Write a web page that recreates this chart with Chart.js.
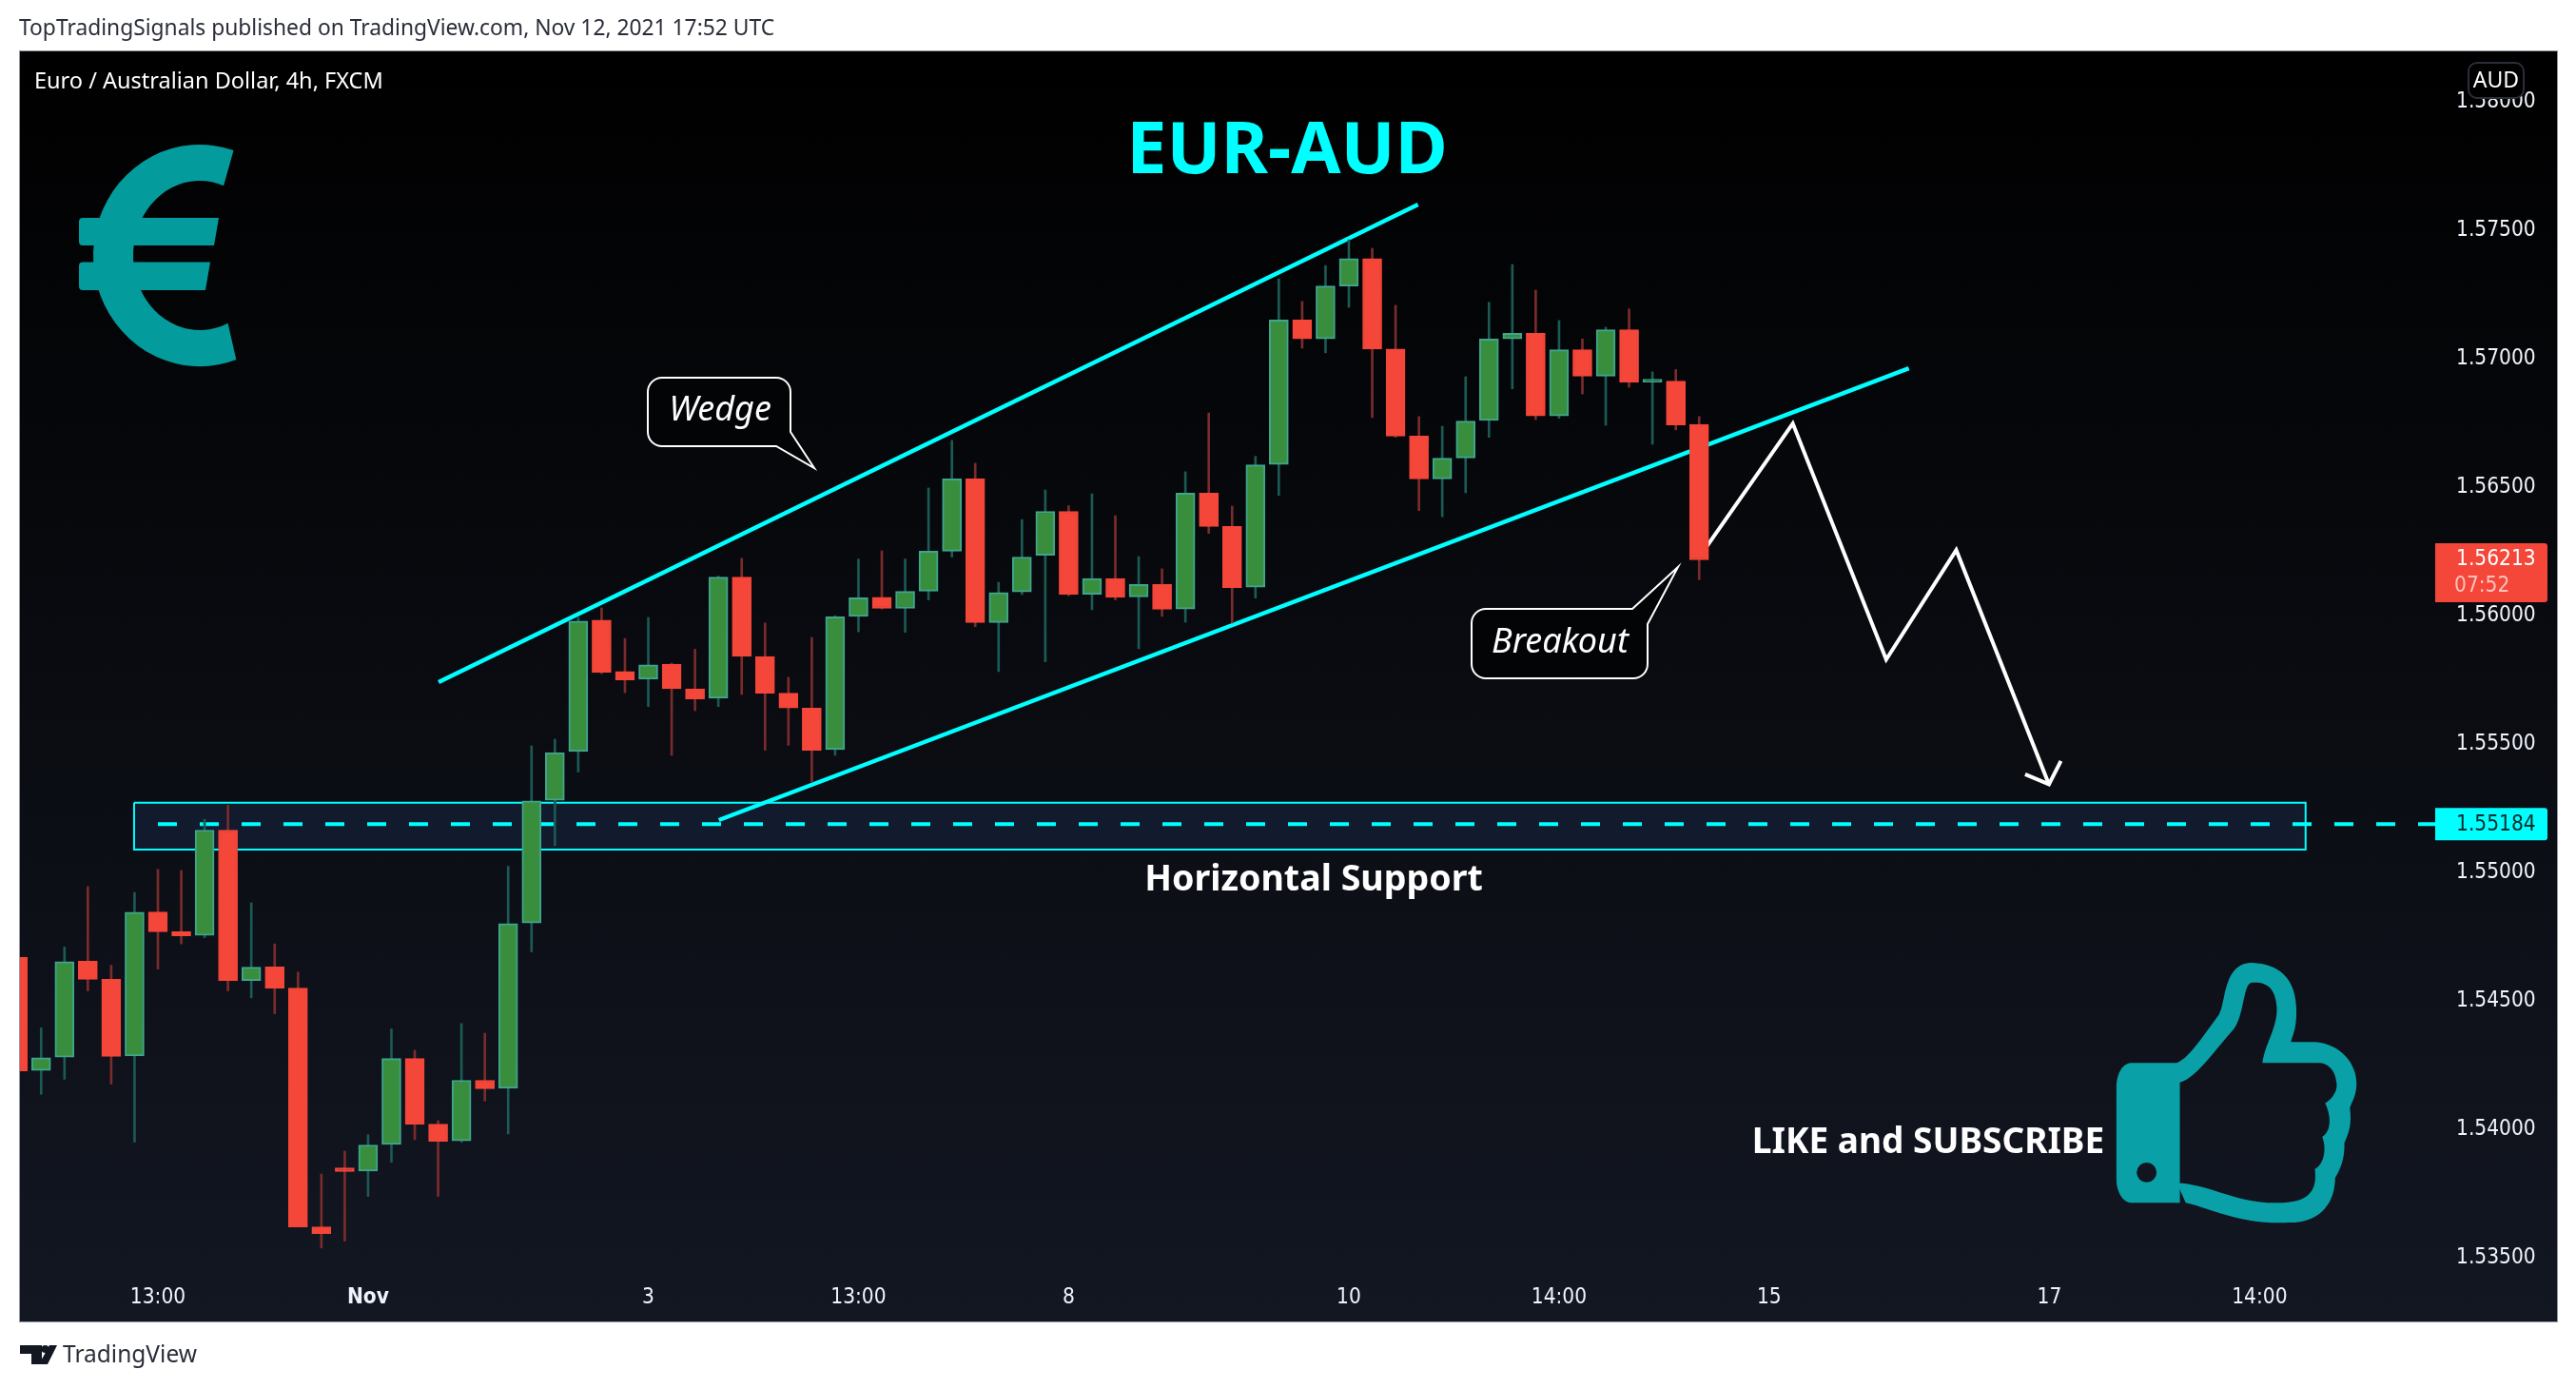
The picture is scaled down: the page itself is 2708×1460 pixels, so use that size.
<!DOCTYPE html>
<html>
<head>
<meta charset="utf-8">
<script src="https://cdn.jsdelivr.net/npm/chart.js"></script>
<style>
  html, body { margin: 0; background: #fff; }
  canvas { display: block; }
</style>
</head>
<body>
<canvas id="myChart" width="2708" height="1460"></canvas>
<script>
// candles, index 0 is the one cut off by the left edge
const opens = [1.54665,1.54225,1.54277,1.54651,1.54580,1.54282,1.54842,1.54765,1.54751,1.55161,1.54575,1.54628,1.54546,1.53616,1.53846,1.53834,1.53937,1.54272,1.54016,1.53951,1.54187,1.54156,1.54799,1.55277,1.55467,1.55978,1.55778,1.55748,1.55807,1.55711,1.55674,1.56146,1.55837,1.55694,1.55636,1.55474,1.55993,1.56067,1.56024,1.56091,1.56247,1.56528,1.55969,1.56088,1.56231,1.56402,1.56079,1.56140,1.56069,1.56117,1.56022,1.56473,1.56343,1.56107,1.56585,1.57147,1.57073,1.57279,1.57386,1.57034,1.56695,1.56528,1.56610,1.56756,1.57073,1.57095,1.56773,1.57031,1.56928,1.57109,1.56905,1.56909,1.56740];
const closes = [1.54223,1.54275,1.54649,1.54580,1.54280,1.54841,1.54765,1.54749,1.55161,1.54575,1.54627,1.54546,1.53616,1.53590,1.53832,1.53935,1.54272,1.54016,1.53949,1.54187,1.54154,1.54797,1.55275,1.55463,1.55975,1.55775,1.55746,1.55804,1.55711,1.55672,1.56146,1.55837,1.55694,1.55636,1.55472,1.55991,1.56065,1.56024,1.56090,1.56247,1.56528,1.55969,1.56086,1.56224,1.56402,1.56079,1.56140,1.56067,1.56117,1.56021,1.56473,1.56343,1.56105,1.56583,1.57147,1.57073,1.57279,1.57386,1.57034,1.56695,1.56528,1.56609,1.56753,1.57073,1.57095,1.56773,1.57031,1.56928,1.57109,1.56905,1.56909,1.56738,1.56213];
const highs = [1.54700,1.54391,1.54706,1.54941,1.54635,1.54918,1.55008,1.55004,1.55203,1.55258,1.54878,1.54718,1.54608,1.53822,1.53911,1.53975,1.54387,1.54304,1.54030,1.54408,1.54370,1.55020,1.55489,1.55515,1.55989,1.56026,1.55907,1.55989,1.55811,1.55865,1.56150,1.56219,1.55967,1.55756,1.55911,1.55996,1.56216,1.56248,1.56216,1.56493,1.56678,1.56589,1.56126,1.56370,1.56485,1.56424,1.56470,1.56385,1.56226,1.56178,1.56556,1.56785,1.56422,1.56616,1.57307,1.57219,1.57359,1.57459,1.57426,1.57204,1.56771,1.56733,1.56926,1.57216,1.57363,1.57263,1.57145,1.57073,1.57119,1.57190,1.56945,1.56954,1.56771];
const lows = [1.54150,1.54132,1.54191,1.54535,1.54172,1.53947,1.54620,1.54718,1.54742,1.54535,1.54508,1.54446,1.53616,1.53534,1.53561,1.53735,1.53868,1.53956,1.53735,1.53946,1.54106,1.53978,1.54687,1.55101,1.55387,1.55770,1.55696,1.55642,1.55452,1.55626,1.55642,1.55689,1.55472,1.55491,1.55349,1.55452,1.55933,1.56022,1.55931,1.56057,1.56224,1.55953,1.55778,1.56078,1.55816,1.56073,1.56019,1.56057,1.55867,1.55993,1.55970,1.56316,1.55967,1.56064,1.56464,1.57037,1.57019,1.57196,1.56767,1.56690,1.56405,1.56381,1.56474,1.56690,1.56879,1.56759,1.56764,1.56859,1.56737,1.56885,1.56663,1.56719,1.56136];

const xTickIndex = [6,15,27,36,45,57,66,75,87,96];
const xTickLabels = ['13:00','Nov','3','13:00','8','10','14:00','15','17','14:00'];
const priceTicks = [1.535,1.54,1.545,1.55,1.555,1.56,1.565,1.57,1.575,1.58];

// drawings, in bar index / price
const upperWedgeX = [18.02,59.96];
const upperWedgeY = [1.55737,1.57596];
const lowerWedgeX = [30.02,80.98];
const lowerWedgeY = [1.55200,1.56959];
const forecastX = [71.99,76.01,80.01,83.01,86.98];
const forecastY = [1.56222,1.56744,1.55825,1.56251,1.55339];
const arrowHeadX = [85.96,86.98,87.49];
const arrowHeadY = [1.55378,1.55339,1.55430];
const zoneX = [4.98,97.97];
const zoneY = [1.55268,1.55085];
const supportStart = 6;
const supportPrice = 1.55184;
const lastPrice = 1.56213;

const FONT = '"Noto Sans", sans-serif';
const NUM_FONT = '"DejaVu Sans Condensed", "DejaVu Sans", sans-serif';
const CYAN = '#00ffff';
const TEAL = '#049b9c';
const xMin = 0.0937, xMax = 103.52;
const yMin = 1.534296, yMax = 1.581926;

const isUp = closes.map((c, i) => c >= opens[i]);
const toPoints = (xs, ys) => xs.map((x, i) => ({x: x, y: ys[i]}));

function lineSet(data, color, width, extra) {
  return Object.assign({
    type: 'line', data: data, borderColor: color, borderWidth: width,
    pointRadius: 0, tension: 0, fill: false, order: 5
  }, extra);
}

const datasets = [
  // zone fill and outline
  lineSet(toPoints(zoneX, [zoneY[0], zoneY[0]]), 'rgba(0,0,0,0)', 0, {
    fill: {value: zoneY[1]}, backgroundColor: '#111b2d', order: 8
  }),
  lineSet(toPoints([zoneX[0],zoneX[1],zoneX[1],zoneX[0],zoneX[0]], [zoneY[0],zoneY[0],zoneY[1],zoneY[1],zoneY[0]]), CYAN, 2, {order: 7}),
  lineSet(toPoints([supportStart, xMax], [supportPrice, supportPrice]), CYAN, 4, {borderDash: [20, 24], order: 6}),
  lineSet(toPoints(upperWedgeX, upperWedgeY), CYAN, 4.5),
  lineSet(toPoints(lowerWedgeX, lowerWedgeY), CYAN, 4.5),
  lineSet(toPoints(forecastX, forecastY), '#ffffff', 4),
  lineSet(toPoints(arrowHeadX, arrowHeadY), '#ffffff', 4),
  // wicks
  {
    type: 'bar', grouped: false, order: 3, barThickness: 2,
    data: highs.map((h, i) => ({x: i, y: [lows[i], h]})),
    backgroundColor: isUp.map(u => u ? '#1c5a55' : '#7a2c2c'),
    borderWidth: 0
  },
  // bodies
  {
    type: 'bar', grouped: false, order: 2, barThickness: 20, minBarLength: 3,
    data: opens.map((o, i) => ({x: i, y: [o, closes[i]]})),
    backgroundColor: isUp.map(u => u ? '#388e3c' : '#f44639'),
    borderColor: isUp.map(u => u ? '#3fa58f' : '#f44639'),
    borderWidth: 2, borderSkipped: false
  }
];

function label(ctx, str, x, y, font, color, align, spacing) {
  ctx.font = font;
  ctx.fillStyle = color;
  ctx.textAlign = align || 'left';
  ctx.textBaseline = 'middle';
  ctx.letterSpacing = (spacing || 0) + 'px';
  ctx.fillText(str, x, y);
  ctx.letterSpacing = '0px';
}

function roundTag(ctx, x, y, w, h, color) {
  ctx.fillStyle = color;
  ctx.beginPath();
  ctx.roundRect(x, y, w, h, [0, 3, 3, 0]);
  ctx.fill();
}

// speech bubble: box plus a tail leaving one corner
function bubble(ctx, x, y, w, h, r, tail) {
  ctx.beginPath();
  ctx.moveTo(x + r, y);
  if (tail.side === 'top') {
    ctx.lineTo(tail.ax, y);
    ctx.lineTo(tail.tx, tail.ty);
    ctx.lineTo(x + w, tail.by);
  } else {
    ctx.lineTo(x + w - r, y);
    ctx.arcTo(x + w, y, x + w, y + r, r);
  }
  if (tail.side === 'bottom') {
    ctx.lineTo(x + w, tail.by);
    ctx.lineTo(tail.tx, tail.ty);
    ctx.lineTo(tail.ax, y + h);
  } else {
    ctx.lineTo(x + w, y + h - r);
    ctx.arcTo(x + w, y + h, x + w - r, y + h, r);
  }
  ctx.lineTo(x + r, y + h);
  ctx.arcTo(x, y + h, x, y + h - r, r);
  ctx.lineTo(x, y + r);
  ctx.arcTo(x, y, x + r, y, r);
  ctx.closePath();
  ctx.fillStyle = '#030406';
  ctx.fill();
  ctx.strokeStyle = '#ffffff';
  ctx.lineWidth = 2;
  ctx.stroke();
}

function drawEuro(ctx) {
  const rad = d => d * Math.PI / 180;
  ctx.fillStyle = TEAL;
  ctx.beginPath();
  ctx.ellipse(210, 268.5, 112, 116.5, 0, rad(-71.5), rad(70), true);
  ctx.ellipse(210, 268.5, 70, 78.5, 0, rad(65), rad(-69), false);
  ctx.closePath();
  ctx.fill();
  ctx.beginPath();
  ctx.roundRect(83, 229, 140, 29, 4);
  ctx.moveTo(218, 229); ctx.lineTo(230, 229); ctx.lineTo(225, 258); ctx.lineTo(218, 258);
  ctx.roundRect(83, 275.5, 132, 29.5, 4);
  ctx.moveTo(210, 275.5); ctx.lineTo(221, 275.5); ctx.lineTo(216, 305); ctx.lineTo(210, 305);
  ctx.fill();
}

function drawThumb(ctx) {
  ctx.save();
  ctx.translate(2100, 500);
  ctx.scale(1 / 2.579, 1 / 1.633);
  ctx.fillStyle = '#09a1a7';
  // cuff
  ctx.beginPath();
  ctx.roundRect(322, 1008, 172, 240, [40, 0, 0, 40]);
  ctx.fill();
  ctx.fillStyle = '#111520';
  ctx.beginPath();
  ctx.ellipse(404, 1196, 27, 17, 0, 0, 7);
  ctx.fill();
  // hand, outer edge and back along the inner edge
  ctx.fillStyle = '#09a1a7';
  ctx.beginPath();
  ctx.moveTo(486, 1008);
  ctx.bezierCurveTo(520, 1000, 570, 950, 600, 925);
  ctx.bezierCurveTo(620, 905, 610, 836, 690, 836);
  ctx.bezierCurveTo(760, 838, 810, 860, 810, 920);
  ctx.bezierCurveTo(810, 950, 800, 960, 795, 972);
  ctx.lineTo(860, 972);
  ctx.bezierCurveTo(930, 975, 975, 1010, 973, 1045);
  ctx.bezierCurveTo(972, 1065, 960, 1075, 955, 1085);
  ctx.bezierCurveTo(960, 1110, 955, 1125, 940, 1145);
  ctx.bezierCurveTo(942, 1170, 930, 1190, 915, 1205);
  ctx.bezierCurveTo(915, 1245, 880, 1282, 790, 1282);
  ctx.bezierCurveTo(660, 1286, 590, 1260, 510, 1248);
  ctx.lineTo(486, 1214);
  ctx.bezierCurveTo(570, 1215, 650, 1250, 760, 1248);
  ctx.bezierCurveTo(840, 1248, 868, 1230, 860, 1190);
  ctx.bezierCurveTo(880, 1185, 895, 1160, 880, 1135);
  ctx.bezierCurveTo(905, 1125, 905, 1100, 888, 1077);
  ctx.bezierCurveTo(905, 1072, 925, 1055, 918, 1040);
  ctx.bezierCurveTo(915, 1020, 895, 1008, 870, 1008);
  ctx.lineTo(718, 1008);
  ctx.bezierCurveTo(725, 975, 757, 950, 757, 915);
  ctx.bezierCurveTo(755, 880, 730, 868, 690, 870);
  ctx.bezierCurveTo(665, 870, 670, 925, 640, 950);
  ctx.bezierCurveTo(590, 985, 530, 1042, 486, 1042);
  ctx.closePath();
  ctx.fill();
  ctx.restore();
}

function drawLogo(ctx) {
  ctx.fillStyle = '#131722';
  ctx.beginPath();
  ctx.moveTo(21, 1414); ctx.lineTo(44, 1414); ctx.lineTo(44, 1434); ctx.lineTo(33, 1434);
  ctx.lineTo(33, 1423); ctx.lineTo(21, 1423); ctx.closePath();
  ctx.moveTo(52, 1414); ctx.lineTo(60, 1414); ctx.lineTo(50, 1434); ctx.lineTo(41, 1434); ctx.closePath();
  ctx.fill();
  ctx.beginPath();
  ctx.arc(47.5, 1418, 4, 0, 7);
  ctx.fill();
}

// frame background goes behind the library's own drawing
const frameBack = {
  id: 'frameBack',
  beforeDraw(chart) {
    const ctx = chart.ctx;
    const g = ctx.createLinearGradient(0, 54, 0, 1389);
    g.addColorStop(0, '#000000');
    g.addColorStop(1, '#131722');
    ctx.fillStyle = g;
    ctx.fillRect(21, 54, 2667, 1335);
  }
};

const overlay = {
  id: 'overlay',
  afterDraw(chart) {
    const ctx = chart.ctx;
    const yScale = chart.scales.y;
    ctx.save();

    ctx.strokeStyle = '#9598a1';
    ctx.lineWidth = 1;
    ctx.strokeRect(20.5, 53.5, 2668, 1336);

    label(ctx, 'TopTradingSignals published on TradingView.com, Nov 12, 2021 17:52 UTC', 20, 31, '22.8px ' + FONT, '#2a2e39');
    label(ctx, 'Euro / Australian Dollar, 4h, FXCM', 36, 86, '23.5px ' + FONT, '#ffffff');
    label(ctx, 'EUR-AUD', 1353, 160, 'bold 75.5px ' + FONT, CYAN, 'center');
    label(ctx, 'Horizontal Support', 1381, 925, 'bold 37.6px ' + FONT, '#ffffff', 'center');
    label(ctx, 'LIKE and SUBSCRIBE', 2027, 1201, 'bold 37px ' + FONT, '#ffffff', 'center');

    bubble(ctx, 681, 397, 150, 72, 15, {side: 'bottom', ax: 816, by: 454, tx: 856, ty: 492});
    label(ctx, 'Wedge', 757, 432, 'italic 36px ' + FONT, '#ffffff', 'center');
    bubble(ctx, 1547, 640, 185, 73, 15, {side: 'top', ax: 1716, by: 656, tx: 1764, ty: 596});
    label(ctx, 'Breakout', 1640, 676, 'italic 36px ' + FONT, '#ffffff', 'center');

    drawEuro(ctx);
    drawThumb(ctx);
    drawLogo(ctx);
    label(ctx, 'TradingView', 66, 1425, '24.5px ' + FONT, '#2a2e39');

    // last price tag
    const lastY = yScale.getPixelForValue(lastPrice);
    roundTag(ctx, 2560, lastY - 17.5, 118, 62, '#f44639');
    label(ctx, lastPrice.toFixed(5), 2582, lastY, '22.5px ' + NUM_FONT, '#ffffff');
    label(ctx, '07:52', 2580, lastY + 28, '22.5px ' + NUM_FONT, '#fbc3be');

    // support tag
    const supY = yScale.getPixelForValue(supportPrice);
    roundTag(ctx, 2560, supY - 17, 118, 34, CYAN);
    label(ctx, supportPrice.toFixed(5), 2582, supY + 1, '22.5px ' + NUM_FONT, '#0b2a2a');

    // currency badge sits on top of the 1.58000 tick
    ctx.fillStyle = '#000000';
    ctx.strokeStyle = '#2a2e39';
    ctx.lineWidth = 2;
    ctx.beginPath();
    ctx.roundRect(2595, 66, 58, 37, 9);
    ctx.fill();
    ctx.stroke();
    label(ctx, 'AUD', 2624, 85, '23px ' + FONT, '#ffffff', 'center');

    ctx.restore();
  }
};

new Chart(document.getElementById('myChart'), {
  type: 'bar',
  data: {datasets: datasets},
  plugins: [frameBack, overlay],
  options: {
    responsive: false,
    devicePixelRatio: 1,
    animation: false,
    layout: {padding: {left: 21, top: 54, right: 20, bottom: 71}},
    plugins: {legend: {display: false}, tooltip: {enabled: false}, title: {display: false}},
    scales: {
      x: {
        type: 'linear', min: xMin, max: xMax, offset: false,
        grid: {display: false, offset: false}, border: {display: false},
        afterBuildTicks: s => { s.ticks = xTickIndex.map(v => ({value: v})); },
        afterFit: s => { s.height = 49; },
        ticks: {
          autoSkip: false, maxRotation: 0, padding: 3, color: '#f0f3fa',
          font: c => ({size: 22.5, family: NUM_FONT, weight: c.tick && c.tick.label === 'Nov' ? 'bold' : 'normal'}),
          callback: v => xTickLabels[xTickIndex.indexOf(v)]
        }
      },
      y: {
        position: 'right', min: yMin, max: yMax,
        grid: {display: false}, border: {display: false},
        afterBuildTicks: s => { s.ticks = priceTicks.map(v => ({value: v})); },
        afterFit: s => { s.width = 128; },
        ticks: {
          autoSkip: false, padding: 14, labelOffset: 1, color: '#f0f3fa',
          font: {size: 22.5, family: NUM_FONT},
          callback: v => v.toFixed(5)
        }
      }
    }
  }
});
</script>
</body>
</html>
